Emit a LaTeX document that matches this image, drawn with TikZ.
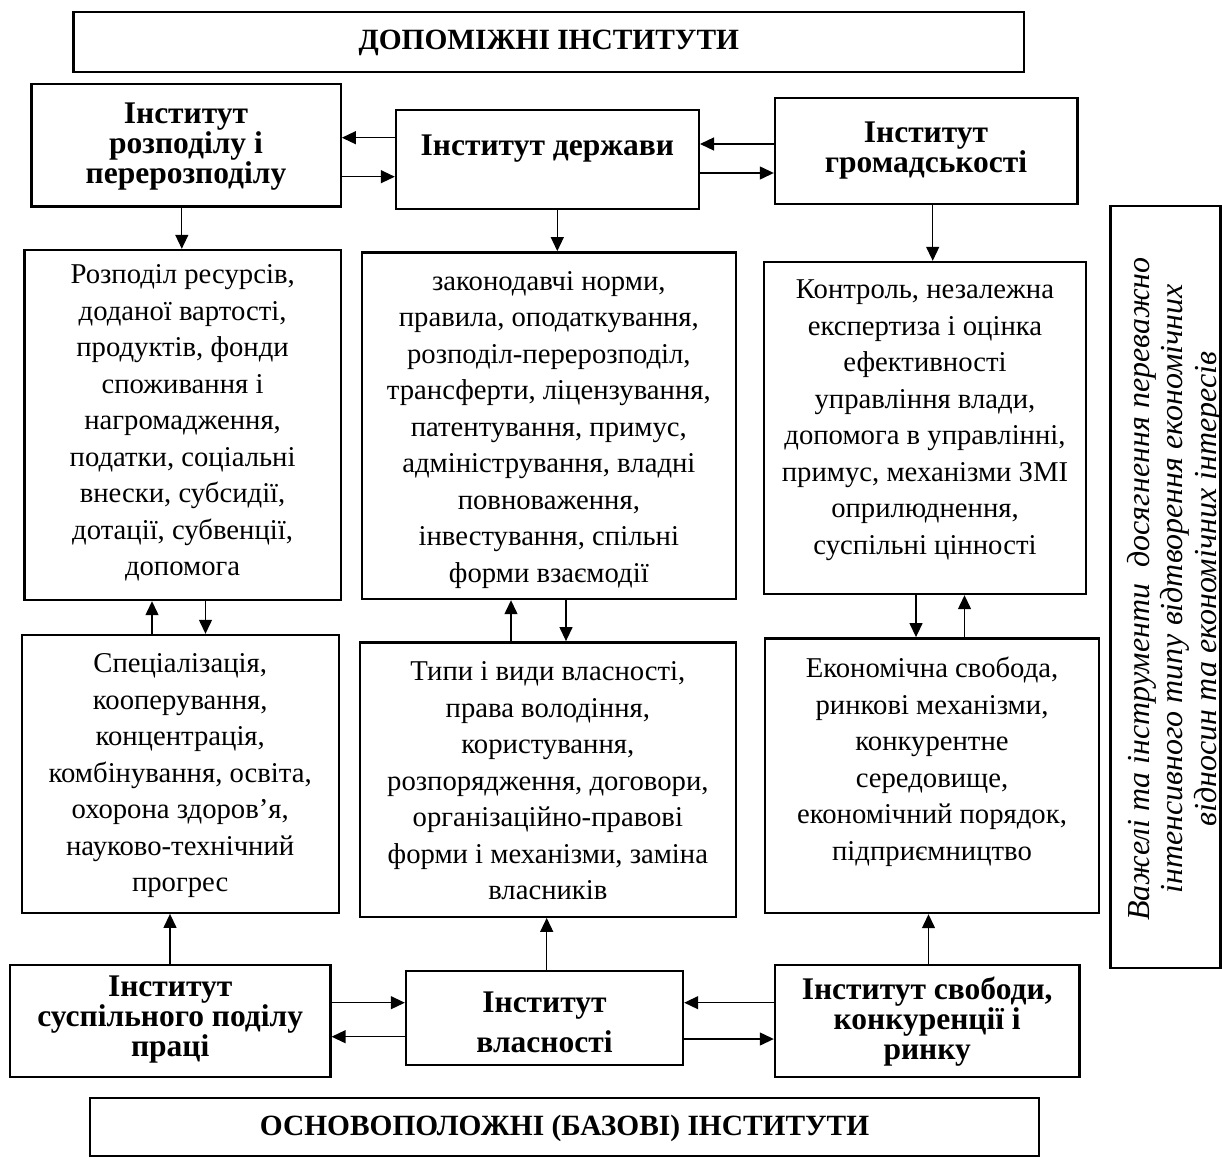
\documentclass[tikz,border=0pt]{standalone}
\usepackage{fontspec}
\setmainfont{Liberation Serif}
\usetikzlibrary{arrows.meta}
\begin{document}
\begin{tikzpicture}[x=1pt,y=-1pt,
  box/.style={draw, line width=2.4pt, inner sep=0pt},
  arr/.style={line width=1.3pt, -{Triangle[length=14pt,width=13pt]}},
  body/.style={align=center, font=\fontsize{28.7}{36.5}\selectfont, inner sep=0pt},
  head/.style={align=center, font=\fontsize{31.5}{30}\selectfont\bfseries, inner sep=0pt},
  ttl/.style={font=\fontsize{29.4}{34}\selectfont\bfseries, inner sep=0pt},
  vert/.style={rotate=90, align=center, font=\fontsize{32}{33.5}\selectfont\itshape, inner sep=0pt}
]
\useasboundingbox (0,0) rectangle (1222,1158);

% boxes
\node[box, minimum width=950.5pt, minimum height=60pt] (top) at (548.75,42) {};
\node[box, minimum width=309.1pt, minimum height=122.7pt] (A) at (186.15,145.35) {};
\node[box, minimum width=302.8pt, minimum height=99pt] (B) at (547.4,159.5) {};
\node[box, minimum width=302.5pt, minimum height=106pt] (C) at (926.25,151) {};
\node[box, minimum width=316.2pt, minimum height=350pt] (L1) at (182.6,425) {};
\node[box, minimum width=374.3pt, minimum height=346.7pt] (M1) at (548.85,425.65) {};
\node[box, minimum width=322pt, minimum height=332pt] (R1) at (925,428) {};
\node[box, minimum width=317pt, minimum height=277.7pt] (L2) at (180.2,773.85) {};
\node[box, minimum width=375.7pt, minimum height=274.4pt] (M2) at (547.85,779.5) {};
\node[box, minimum width=334pt, minimum height=274.7pt] (R2) at (932,775.65) {};
\node[box, minimum width=320.4pt, minimum height=112pt] (BA) at (170.2,1021) {};
\node[box, minimum width=277pt, minimum height=94.3pt] (BB) at (544.5,1017.85) {};
\node[box, minimum width=304.4pt, minimum height=112pt] (BC) at (927.2,1021) {};
\node[box, minimum width=949pt, minimum height=58pt] (bot) at (564.5,1127) {};
\node[box, minimum width=110pt, minimum height=762pt] (V) at (1165.5,587) {};

% texts
\node[ttl] (topt) at (548.75,43) {ДОПОМІЖНІ ІНСТИТУТИ};
\node[head] (At) at (186,147) {Інститут\\розподілу і\\перерозподілу};
\node[head] (Bt) at (547.4,149) {Інститут держави};
\node[head] (Ct) at (926,151) {Інститут\\громадськості};
\node[body] (L1t) at (182.6,423) {Розподіл ресурсів,\\доданої вартості,\\продуктів, фонди\\споживання і\\нагромадження,\\податки, соціальні\\внески, субсидії,\\дотації, субвенції,\\допомога};
\node[body] (M1t) at (548.85,430) {законодавчі норми,\\правила, оподаткування,\\розподіл-перерозподіл,\\трансферти, ліцензування,\\патентування, примус,\\адміністрування, владні\\повноваження,\\інвестування, спільні\\форми взаємодії};
\node[body] (R1t) at (925,420) {Контроль, незалежна\\експертиза і оцінка\\ефективності\\управління влади,\\допомога в управлінні,\\примус, механізми ЗМІ\\оприлюднення,\\суспільні цінності};
\node[body] (L2t) at (180.2,776) {Спеціалізація,\\кооперування,\\концентрація,\\комбінування, освіта,\\охорона здоров’я,\\науково-технічний\\прогрес};
\node[body] (M2t) at (547.85,781) {Типи і види власності,\\права володіння,\\користування,\\розпорядження, договори,\\організаційно-правові\\форми і механізми, заміна\\власників};
\node[body] (R2t) at (932,762) {Економічна свобода,\\ринкові механізми,\\конкурентне\\середовище,\\економічний порядок,\\підприємництво};
\node[head] (BAt) at (170.2,1020) {Інститут\\суспільного поділу\\праці};
\node[head, font=\fontsize{31.5}{40}\selectfont\bfseries] (BBt) at (544.5,1022) {Інститут\\власності};
\node[head] (BCt) at (927.2,1022) {Інститут свободи,\\конкуренції і\\ринку};
\node[ttl] (bott) at (564.5,1128) {ОСНОВОПОЛОЖНІ (БАЗОВІ) ІНСТИТУТИ};
\node[vert] (Vt) at (1175,589) {Важелі та інструменти~ досягнення переважно\\інтенсивного типу відтворення економічних\\відносин та економічних інтересів};

% connectors, top row
\draw[arr] (B.west |- 0,137.7) -- (A.east |- 0,137.7);
\draw[arr] (A.east |- 0,176.7) -- (B.west |- 0,176.7);
\draw[arr] (C.west |- 0,144) -- (B.east |- 0,144);
\draw[arr] (B.east |- 0,173) -- (C.west |- 0,173);
\draw[arr] (A.south -| 181.8,0) -- (L1.north -| 181.8,0);
\draw[arr] (B.south -| 557.3,0) -- (M1.north -| 557.3,0);
\draw[arr] (C.south -| 932.7,0) -- (R1.north -| 932.7,0);
% middle
\draw[arr] (L2.north -| 152,0) -- (L1.south -| 152,0);
\draw[arr] (L1.south -| 205.5,0) -- (L2.north -| 205.5,0);
\draw[arr] (M2.north -| 511,0) -- (M1.south -| 511,0);
\draw[arr] (M1.south -| 566,0) -- (M2.north -| 566,0);
\draw[arr] (R1.south -| 916,0) -- (R2.north -| 916,0);
\draw[arr] (R2.north -| 964.5,0) -- (R1.south -| 964.5,0);
% bottom
\draw[arr] (BA.north -| 170,0) -- (L2.south -| 170,0);
\draw[arr] (BB.north -| 546.7,0) -- (M2.south -| 546.7,0);
\draw[arr] (BC.north -| 928.5,0) -- (R2.south -| 928.5,0);
\draw[arr] (BA.east |- 0,1002.7) -- (BB.west |- 0,1002.7);
\draw[arr] (BB.west |- 0,1036.7) -- (BA.east |- 0,1036.7);
\draw[arr] (BC.west |- 0,1002.7) -- (BB.east |- 0,1002.7);
\draw[arr] (BB.east |- 0,1039) -- (BC.west |- 0,1039);
\end{tikzpicture}
\end{document}
